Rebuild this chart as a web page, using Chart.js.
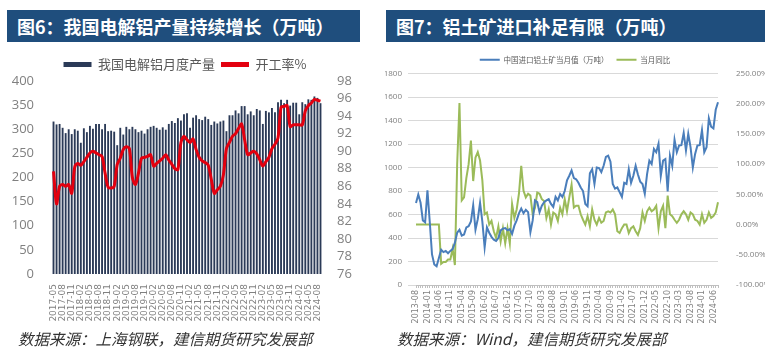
<!DOCTYPE html>
<html>
<head>
<meta charset="utf-8">
<script src="https://cdn.jsdelivr.net/npm/chart.js@4.4.1/dist/chart.umd.min.js"></script>
<style>
  body { margin: 0; background: #fff; width: 765px; height: 359px; position: relative; overflow: hidden; font-family: "Noto Sans CJK SC", sans-serif; }
  .banner { position: absolute; top: 10px; height: 32px; background: #1f4e7d; color: #fff; font-weight: 700; font-size: 18px; line-height: 32px; padding-left: 10px; box-sizing: border-box; white-space: nowrap; }
  .source { position: absolute; top: 327px; font-size: 15.5px; font-style: italic; color: #333; white-space: nowrap; }
  canvas { position: absolute; }
</style>
</head>
<body>
<div class="banner" style="left:7px;width:353px;">图6：我国电解铝产量持续增长（万吨）</div>
<div class="banner" style="left:386px;width:379px;">图7：铝土矿进口补足有限（万吨）</div>
<canvas id="prodChart" width="370" height="282" style="left:0;top:48px;"></canvas>
<canvas id="bauxiteChart" width="380" height="284" style="left:385px;top:46px;"></canvas>
<div class="source" style="left:18px;">数据来源：上海钢联，建信期货研究发展部</div>
<div class="source" style="left:397px;">数据来源：Wind，建信期货研究发展部</div>

<script>
// month labels like 2017-05
function monthLabels(year, month, count) {
    var out = [];
    for (var i = 0; i < count; i++) {
        var m = month - 1 + i;
        var y = year + Math.floor(m / 12);
        var mm = (m % 12) + 1;
        out.push(y + '-' + (mm < 10 ? '0' + mm : mm));
    }
    return out;
}

// Figure 6: electrolytic aluminium output (万吨) and operating rate (%)
var prodMonths = monthLabels(2017, 5, 89);
var prodOutput = [316,310,311,303,292,300,290,300,297,272,
    302,294,307,301,311,311,300,311,296,297,
    295,267,303,289,305,300,305,300,294,297,
    291,300,305,307,303,299,304,299,311,317,
    313,323,318,331,333,303,324,329,321,319,
    326,321,309,316,312,316,318,296,329,329,
    339,333,348,348,331,337,329,342,339,311,
    338,335,344,335,356,361,354,361,349,355,
    355,331,356,352,362,361,368,365,354];
var prodRate = [87.7,84.0,86.0,86.2,86.0,86.2,85.2,88.2,88.6,88.4,
    88.8,89.3,89.8,90.0,89.8,89.6,89.4,87.5,85.9,85.8,
    86.0,88.5,89.2,90.2,90.5,90.3,87.0,86.2,87.5,89.2,
    89.3,89.4,89.6,88.3,88.6,88.9,89.2,89.6,89.0,88.5,
    88.0,87.9,91.0,91.7,91.3,91.0,91.4,90.2,89.3,88.9,
    88.7,88.4,86.8,85.2,85.6,86.0,87.3,90.3,91.0,91.7,
    92.0,92.6,93.1,91.3,89.6,89.8,90.0,89.7,89.0,88.3,
    88.8,89.3,90.3,90.8,91.5,95.0,95.1,95.2,92.8,93.0,
    93.0,93.0,93.0,94.6,95.2,95.5,95.9,95.8,95.7];

// Figure 7: bauxite imports (万吨) and YoY (%)
var bauxiteMonths = monthLabels(2013, 8, 133);
var bauxiteImports = [697,770,700,550,534,806,540,260,175,160,
    230,300,280,290,270,290,305,360,445,470,
    420,430,490,500,540,680,470,560,700,540,
    320,490,445,410,385,375,400,465,480,485,
    465,475,435,505,550,610,650,610,640,620,
    450,550,720,705,620,675,705,720,730,690,
    665,750,720,775,750,800,890,930,975,910,
    900,870,830,800,690,670,950,985,860,1000,
    995,960,1015,1090,1100,1050,860,820,830,790,
    750,870,860,985,870,930,1015,940,880,860,
    777,943,1058,1029,1158,1130,1202,929,1058,1072,
    796,1100,1015,1237,1130,1188,1190,1295,1145,1287,
    1173,1000,1116,1188,1190,1318,1130,1173,1419,1347,
    1333,1491,1555];
var bauxiteYoY = [0,0,0,0,0,0,0,0,0,0,0,
    -65,-62,-62,-58,-58,-40,-67,100,201,40,
    45,77,100,139,72,111,120,106,73,17,
    20,0,6,-11,-22,-3,-28,-6,-31,-6,
    -31,34,11,25,51,97,56,45,51,48,
    17,28,53,51,42,39,11,25,0,20,
    17,6,28,17,42,22,45,66,28,
    31,31,17,8,0,14,-3,25,8,0,
    11,3,6,20,22,20,25,17,-11,-14,
    -6,0,0,-14,-6,-3,-11,-17,-6,
    20,6,22,28,22,25,31,-6,22,31,
    -6,48,
    17,14,8,3,8,17,22,17,8,20,17,8,6,0,17,3,8,20,11,14,20,37];

var prodTicksLeft = { min: 0, max: 400, step: 50 };
var prodTicksRight = { min: 76, max: 98, step: 2 };
var bauxTicksLeft = { min: 0, max: 1800, step: 200 };
var bauxTicksRight = { min: -100, max: 250, step: 50 };

var grey = '#808080';

function legendItems(chart) {
    var items = Chart.defaults.plugins.legend.labels.generateLabels(chart);
    items.forEach(function(it) {
        var ds = chart.data.datasets[it.datasetIndex];
        it.fillStyle = ds.type === 'line' || chart.config.type === 'line' ? ds.borderColor : ds.backgroundColor;
        it.lineWidth = 0;
        it.strokeStyle = 'rgba(0,0,0,0)';
    });
    return items.sort(function(a, b) { return a.datasetIndex - b.datasetIndex; });
}

new Chart(document.getElementById('prodChart'), {
    data: {
        labels: prodMonths,
        datasets: [
            {
                type: 'bar',
                label: '我国电解铝月度产量',
                data: prodOutput,
                backgroundColor: '#2b3a57',
                barPercentage: 0.62,
                categoryPercentage: 1,
                yAxisID: 'y',
                order: 1
            },
            {
                type: 'line',
                label: '开工率%',
                data: prodRate,
                borderColor: '#e3000f',
                backgroundColor: '#e3000f',
                borderWidth: 3,
                pointRadius: 0,
                tension: 0.3,
                yAxisID: 'y1',
                order: 0
            }
        ]
    },
    options: {
        responsive: false,
        animation: false,
        layout: { padding: { top: 4, bottom: 0, left: 0, right: 0 } },
        plugins: {
            tooltip: { enabled: false },
            legend: {
                labels: {
                    boxWidth: 28,
                    boxHeight: 5,
                    padding: 6,
                    color: '#595959',
                    font: { size: 13, family: '"Noto Sans CJK SC", sans-serif' },
                    generateLabels: legendItems
                }
            }
        },
        scales: {
            x: {
                grid: { display: false },
                border: { display: false },
                ticks: {
                    autoSkip: false,
                    minRotation: 90,
                    maxRotation: 90,
                    padding: 2,
                    color: grey,
                    font: { size: 9, family: '"DejaVu Sans", sans-serif' },
                    callback: function(v, i) { return i % 3 === 0 ? prodMonths[i] : ''; }
                },
                afterFit: function(s) { s.height = 56; }
            },
            y: {
                position: 'left',
                min: prodTicksLeft.min,
                max: prodTicksLeft.max,
                grid: { display: false },
                border: { display: false },
                ticks: { autoSkip: false, stepSize: prodTicksLeft.step, padding: 10, color: grey, font: { size: 13, family: '"Open Sans", sans-serif' } },
                afterFit: function(s) { s.width = 52; }
            },
            y1: {
                position: 'right',
                min: prodTicksRight.min,
                max: prodTicksRight.max,
                grid: { display: false },
                border: { display: false },
                ticks: { autoSkip: false, stepSize: prodTicksRight.step, padding: 7, color: grey, font: { size: 13, family: '"Open Sans", sans-serif' } },
                afterFit: function(s) { s.width = 48; }
            }
        }
    }
});

new Chart(document.getElementById('bauxiteChart'), {
    type: 'line',
    data: {
        labels: bauxiteMonths,
        datasets: [
            {
                label: '中国进口铝土矿当月值（万吨）',
                data: bauxiteImports,
                borderColor: '#4a7ebb',
                backgroundColor: '#4a7ebb',
                borderWidth: 2,
                pointRadius: 0,
                yAxisID: 'y'
            },
            {
                label: '当月同比',
                data: bauxiteYoY,
                borderColor: '#9bbb59',
                backgroundColor: '#9bbb59',
                borderWidth: 2,
                pointRadius: 0,
                yAxisID: 'y1'
            }
        ]
    },
    options: {
        responsive: false,
        animation: false,
        layout: { padding: { top: 2, bottom: 0, left: 0, right: 0 } },
        plugins: {
            tooltip: { enabled: false },
            legend: {
                labels: {
                    boxWidth: 20,
                    boxHeight: 2,
                    padding: 8,
                    color: '#595959',
                    font: { size: 7.5, family: '"Noto Sans CJK SC", sans-serif' },
                    generateLabels: legendItems
                }
            }
        },
        scales: {
            x: {
                grid: { display: true, drawOnChartArea: false, tickLength: 3, color: '#bfbfbf' },
                border: { color: '#bfbfbf' },
                ticks: {
                    autoSkip: false,
                    minRotation: 90,
                    maxRotation: 90,
                    padding: 2,
                    color: grey,
                    font: { size: 8, family: '"DejaVu Sans", sans-serif' },
                    callback: function(v, i) { return i % 5 === 0 ? bauxiteMonths[i] : ''; }
                },
                afterFit: function(s) { s.height = 45; }
            },
            y: {
                position: 'left',
                min: bauxTicksLeft.min,
                max: bauxTicksLeft.max,
                grid: { color: '#d9d9d9' },
                border: { display: false },
                ticks: {
                    autoSkip: false,
                    stepSize: bauxTicksLeft.step,
                    padding: 6,
                    color: grey,
                    font: { size: 8, family: '"Open Sans", sans-serif' },
                    callback: function(v) { return String(v); }
                },
                afterFit: function(s) { s.width = 31; }
            },
            y1: {
                position: 'right',
                min: bauxTicksRight.min,
                max: bauxTicksRight.max,
                grid: { display: false },
                border: { display: false },
                ticks: {
                    autoSkip: false,
                    stepSize: bauxTicksRight.step,
                    padding: 10,
                    color: grey,
                    font: { size: 8, family: '"Open Sans", sans-serif' },
                    callback: function(v) { return v.toFixed(2) + '%'; }
                },
                afterFit: function(s) { s.width = 47; }
            }
        }
    }
});
</script>
</body>
</html>
